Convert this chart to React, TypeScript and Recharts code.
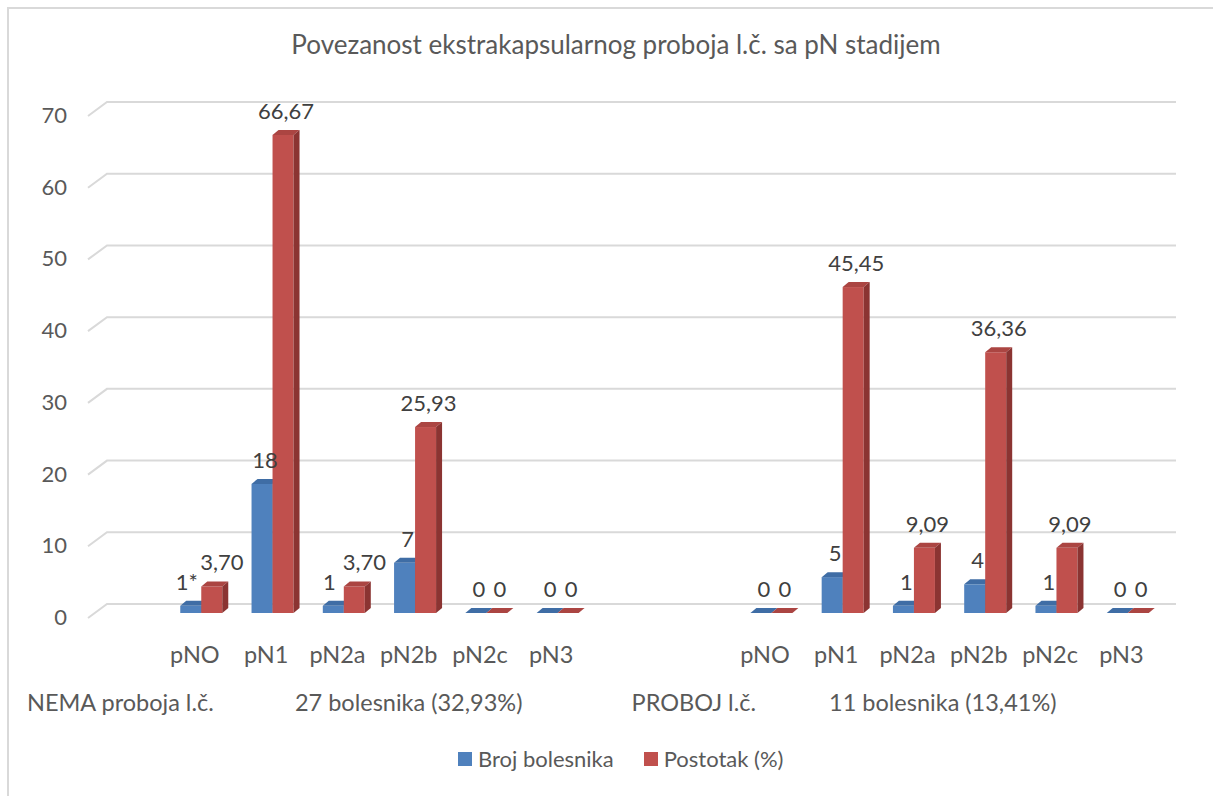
import { Bar, BarChart, CartesianGrid, LabelList, Legend, XAxis, YAxis } from 'recharts';

const stages = ['', 'pNO', 'pN1', 'pN2a', 'pN2b', 'pN2c', 'pN3', '', '', 'pNO', 'pN1', 'pN2a', 'pN2b', 'pN2c', 'pN3'];
const groups = ['NEMA proboja l.č.', '', '', '', '27 bolesnika (32,93%)', '', '', '', 'PROBOJ l.č.', '', '', '', '11 bolesnika (13,41%)', '', ''];
const brojBolesnika = [null, 1, 18, 1, 7, 0, 0, null, null, 0, 5, 1, 4, 1, 0];
const brojLabels = ['', '1*', '18', '1', '7', '0', '0', '', '', '0', '5', '1', '4', '1', '0'];
const postotak = [null, 3.7, 66.67, 3.7, 25.93, 0, 0, null, null, 0, 45.45, 9.09, 36.36, 9.09, 0];
const yTicks = [0, 10, 20, 30, 40, 50, 60, 70];

const fmtPct = (v: number | null) => (v == null ? '' : v === 0 ? '0' : v.toFixed(2).replace('.', ','));

const data = stages.map((stage, i) => ({
  slot: i,
  stage,
  group: groups[i],
  broj: brojBolesnika[i],
  postotak: postotak[i]
}));

// both labels of a pair at nearly the same height -> spread them apart, like Excel does
const crowded = (i: number) => {
  const b = brojBolesnika[i];
  const p = postotak[i];
  return b != null && p != null && p !== 0 && Math.abs(p - b) < 4;
};

const font = 'Lato, "Open Sans", sans-serif';
const textColor = '#595959';

const blue = { front: '#4f81bd', top: '#3f6da5', side: '#34598a' };
const red = { front: '#c0504d', top: '#ab4542', side: '#8b3432' };

const DX = 6;
const DY = 5;

const prism = (c: typeof blue, key: string) => (p: any) => {
  if (p.payload?.[key] == null) return <g />;
  const { x, y, width: w, height: h } = p;
  return (
    <g>
      <rect x={x} y={y} width={w} height={Math.max(h, 0)} fill={c.front} />
      <polygon points={`${x},${y} ${x + DX},${y - DY} ${x + w + DX},${y - DY} ${x + w},${y}`} fill={c.top} />
      <polygon points={`${x + w},${y} ${x + w + DX},${y - DY} ${x + w + DX},${y + h - DY} ${x + w},${y + h}`} fill={c.side} />
    </g>
  );
};

const valueLabel = (texts: string[], nudge: number) => (p: any) => {
  const { x, y, width, value } = p;
  const slot = Number(value);
  const text = texts[slot];
  if (!text) return null;
  const dx = crowded(slot) ? nudge : 0;
  return (
    <text x={x + width / 2 + 3 + dx} y={y - 16} textAnchor="middle" fill="#404040" fontSize={22} fontFamily={font}>
      {text}
    </text>
  );
};

const gridLine = (p: any) => {
  const { x1, x2, y1, index } = p;
  return (
    <polyline
      key={`g-${index}-${y1}`}
      points={`${x1 - DX},${y1 + 5} ${x1 + 13},${y1 - 9} ${x2 + 13},${y1 - 9}`}
      fill="none"
      stroke="#d9d9d9"
      strokeWidth={2}
    />
  );
};

const StageTick = (p: any) => (
  <text x={p.x - DX} y={663} textAnchor="middle" fill={textColor} fontSize={23.5} fontFamily={font}>
    {stages[p.payload.value]}
  </text>
);

const GroupTick = (p: any) => {
  const i = p.payload.value;
  const label = groups[i];
  if (!label) return <g />;
  const first = i === 0;
  const shift = i === 12 ? -36 : 0;
  return (
    <text
      x={first ? 27 : p.x - DX + shift}
      y={711}
      textAnchor={first ? 'start' : 'middle'}
      fill={textColor}
      fontSize={23.5}
      fontFamily={font}
    >
      {label}
    </text>
  );
};

const YTick = (p: any) => (
  <text x={67} y={p.y + 12} textAnchor="end" fill={textColor} fontSize={22} fontFamily={font}>
    {p.payload.value}
  </text>
);

const LegendContent = (p: any) => (
  <div style={{ display: 'flex', gap: 30, fontFamily: font, fontSize: 22, color: textColor }}>
    {(p.payload || []).map((item: any) => (
      <div key={item.value} style={{ display: 'flex', alignItems: 'center', gap: 6 }}>
        <span style={{ width: 14, height: 14, background: item.color, display: 'inline-block' }} />
        <span>{item.value}</span>
      </div>
    ))}
  </div>
);

const brojTexts = brojLabels;
const postotakTexts = postotak.map(fmtPct);

export default function App() {
  return (
    <div style={{ position: 'absolute', left: 0, top: 0, width: 1213, height: 796, background: '#fff' }}>
      <div
        style={{
          position: 'absolute',
          left: 7,
          top: 7,
          width: 1206,
          height: 789,
          borderLeft: '2px solid #d9d9d9',
          borderTop: '2px solid #d9d9d9',
          boxSizing: 'border-box'
        }}
      />
      <div
        style={{
          position: 'absolute',
          left: 0,
          top: 27,
          width: 1232,
          textAlign: 'center',
          fontFamily: font,
          fontSize: 26,
          color: textColor,
          lineHeight: '34px'
        }}
      >
        Povezanost ekstrakapsularnog proboja l.č. sa pN stadijem
      </div>
      <div style={{ position: 'absolute', left: 0, top: 0 }}>
        <BarChart
          width={1213}
          height={796}
          data={data}
          margin={{ top: 111, right: 50, bottom: 181, left: 93 }}
          barGap={0}
          barSize={21}
        >
          <CartesianGrid vertical={false} horizontal={gridLine} />
          <XAxis xAxisId="stage" dataKey="slot" height={1} axisLine={false} tickLine={false} interval={0} tick={StageTick} />
          <XAxis xAxisId="group" dataKey="slot" height={1} axisLine={false} tickLine={false} interval={0} tick={GroupTick} />
          <YAxis width={1} domain={[0, 70]} ticks={yTicks} interval={0} axisLine={false} tickLine={false} tick={YTick} />
          <Legend
            layout="horizontal"
            verticalAlign="middle"
            align="center"
            wrapperStyle={{ left: 458, top: 745, width: 'auto' }}
            content={LegendContent}
          />
          <Bar xAxisId="stage" dataKey="broj" name="Broj bolesnika" fill={blue.front} shape={prism(blue, 'broj')} isAnimationActive={false}>
            <LabelList dataKey={(d: any) => d.slot} content={valueLabel(brojTexts, -7)} />
          </Bar>
          <Bar xAxisId="stage" dataKey="postotak" name="Postotak (%)" fill={red.front} shape={prism(red, 'postotak')} isAnimationActive={false}>
            <LabelList dataKey={(d: any) => d.slot} content={valueLabel(postotakTexts, 7)} />
          </Bar>
        </BarChart>
      </div>
    </div>
  );
}
